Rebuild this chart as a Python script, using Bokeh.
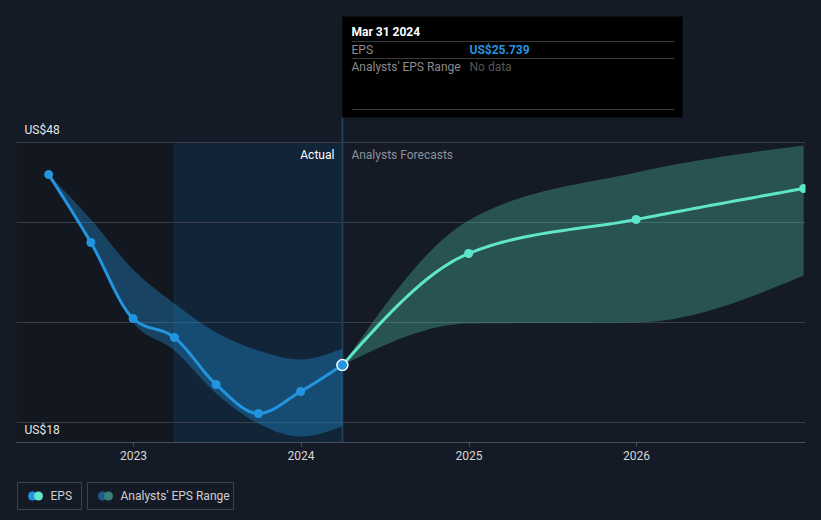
import numpy as np
import pandas as pd
from bokeh.plotting import figure
from bokeh.layouts import column
from bokeh.models import Range1d, FixedTicker, DatetimeTickFormatter
from bokeh.core.properties import value
from bokeh.embed import file_html
from bokeh.resources import INLINE

# ---------------- data ----------------
eps_dates = ["2022-06-30", "2022-09-30", "2022-12-31", "2023-03-31",
             "2023-06-30", "2023-09-30", "2023-12-31", "2024-03-31"]
eps_values = [44.8, 38.0, 30.4, 28.5, 23.8, 20.9, 23.1, 25.739]
eps_range_low = [44.8, 37.8, 30.0, 27.2, 22.9, 19.9, 18.6, 19.6]
eps_range_high = [44.8, 40.3, 35.3, 31.9, 29.0, 27.2, 26.3, 27.4]

fc_dates = ["2024-03-31", "2024-12-31", "2025-12-31", "2026-12-31"]
fc_values = [25.739, 36.9, 40.3, 43.4]
fc_low = [25.739, 29.9, 30.0, 34.7]
fc_high = [25.739, 40.2, 45.0, 47.7]

year_ticks = ["2023-01-01", "2024-01-01", "2025-01-01", "2026-01-01"]
y_grid = [20, 30, 40, 48]
y_labels = ["US$48", "US$18"]
y_label_vals = [48, 18]
current_date = "2024-03-31"
highlight_start = "2023-03-31"
legend_labels = ["EPS", "Analysts' EPS Range"]

BG = "#151b26"
FONT = value("Roboto")


def ms(s):
    return pd.Timestamp(s).value / 1e6


def monotone(xs, ys, n=30):
    xs = np.asarray(xs, float)
    ys = np.asarray(ys, float)
    m = len(xs)
    h = np.diff(xs)
    s = np.diff(ys) / h
    t = np.zeros(m)
    for i in range(1, m - 1):
        p_ = (s[i - 1] * h[i] + s[i] * h[i - 1]) / (h[i - 1] + h[i])
        t[i] = (np.sign(s[i - 1]) + np.sign(s[i])) * min(abs(s[i - 1]), abs(s[i]), 0.5 * abs(p_))
    t[0] = (3 * s[0] - t[1]) / 2
    t[-1] = (3 * s[-1] - t[-2]) / 2
    ox, oy = [], []
    for i in range(m - 1):
        u = np.linspace(0, 1, n, endpoint=(i == m - 2))
        h00 = 2 * u**3 - 3 * u**2 + 1
        h10 = u**3 - 2 * u**2 + u
        h01 = -2 * u**3 + 3 * u**2
        h11 = u**3 - u**2
        ox.extend(xs[i] + u * h[i])
        oy.extend(h00 * ys[i] + h10 * h[i] * t[i] + h01 * ys[i + 1] + h11 * h[i] * t[i + 1])
    return np.array(ox), np.array(oy)


# ---------------- geometry ----------------
W = 821
MAIN_H = 470
FRAME_L, FRAME_R = 16, 16
FRAME_W = W - FRAME_L - FRAME_R
FRAME_H = 442
x0, x1 = ms("2022-04-21"), ms("2027-01-04")
y0 = 18.0
y1 = y0 + FRAME_H / 10.0


def px2x(px):
    return x0 + (px - FRAME_L) / FRAME_W * (x1 - x0)


def px2y(py):
    return y1 - py / 10.0


p = figure(width=W, height=MAIN_H, output_backend="svg", toolbar_location=None,
           x_range=Range1d(x0, x1), y_range=Range1d(y0, y1),
           min_border_left=FRAME_L, min_border_right=FRAME_R,
           min_border_top=0, min_border_bottom=MAIN_H - FRAME_H,
           background_fill_color=BG, border_fill_color=BG)
p.styles = {"background-color": BG}
p.outline_line_color = None
p.yaxis.visible = False
p.xgrid.visible = False
p.ygrid.ticker = FixedTicker(ticks=y_grid)
p.ygrid.grid_line_color = "#393e48"

ax = p.xaxis[0]
ax.ticker = FixedTicker(ticks=[ms(d) for d in year_ticks])
ax.formatter = DatetimeTickFormatter(years="%Y", months="%Y", days="%Y", hours="%Y")
ax.axis_line_color = "#4a4f59"
ax.major_tick_line_color = "#4a4f59"
ax.major_tick_out = 4
ax.major_tick_in = 0
ax.minor_tick_line_color = None
ax.major_label_text_color = "#d6d6d6"
ax.major_label_text_font = "Roboto"
ax.major_label_text_font_size = "12px"
ax.major_label_standoff = 4

cur = ms(current_date)
hs = ms(highlight_start)

# background regions
r = p.quad(left=[x0], right=[hs], bottom=[y0], top=[48], fill_color="#13171f", line_color=None)
r.level = "image"
r = p.quad(left=[hs], right=[cur], bottom=[y0], top=[48], fill_color="#122538", line_color=None)
r.level = "image"
p.segment(x0=[hs], y0=[y0], x1=[hs], y1=[48], line_color="#1b2f45", line_width=1)

# crosshair + tooltip
p.segment(x0=[cur], y0=[px2y(117)], x1=[cur], y1=[y0], line_color="#1f3d5b", line_width=2)
p.quad(left=[cur], right=[px2x(682)], top=[px2y(16)], bottom=[px2y(117)],
       fill_color="#000000", line_color=None)
p.segment(x0=[px2x(351)] * 3, x1=[px2x(674)] * 3,
          y0=[px2y(41), px2y(58), px2y(109)], y1=[px2y(41), px2y(58), px2y(109)],
          line_color="#3a3a3a", line_width=1)
p.text(x=[px2x(351)], y=[px2y(31)], text=["Mar 31 2024"], text_font=FONT,
       text_font_size="12px", text_color="#ffffff", text_baseline="middle",
       text_font_style="bold")
p.text(x=[px2x(351), px2x(351)], y=[px2y(49.5), px2y(66)], text=["EPS", "Analysts' EPS Range"],
       text_font=FONT, text_font_size="12px", text_color="#8c8c8c", text_baseline="middle")
p.text(x=[px2x(469)], y=[px2y(49.5)], text=["US$%.3f" % eps_values[-1]], text_font=FONT,
       text_font_size="12px", text_color="#2394df", text_baseline="middle", text_font_style="bold")
p.text(x=[px2x(469)], y=[px2y(66)], text=["No data"], text_font=FONT,
       text_font_size="12px", text_color="#555555", text_baseline="middle")

# bands
ex = [ms(d) for d in eps_dates]
fx = [ms(d) for d in fc_dates]
bx, blo = monotone(ex, eps_range_low)
_, bhi = monotone(ex, eps_range_high)
p.varea(x=bx, y1=blo, y2=bhi, fill_color="#2394df", fill_alpha=0.35)
fbx, flo = monotone(fx, fc_low)
_, fhi = monotone(fx, fc_high)
p.varea(x=fbx, y1=flo, y2=fhi, fill_color="#5fe6c8", fill_alpha=0.28)

# lines
lx, ly = monotone(ex, eps_values)
p.line(lx, ly, line_color="#2394df", line_width=3)
flx, fly = monotone(fx, fc_values)
p.line(flx, fly, line_color="#5fe6c8", line_width=3)
p.scatter(ex[:-1], eps_values[:-1], size=9, fill_color="#2394df", line_color=None)
p.scatter(fx[1:], fc_values[1:], size=9, fill_color="#5fe6c8", line_color=None)
p.scatter([ex[-1]], [eps_values[-1]], size=11, fill_color="#2394df", line_color="#ffffff", line_width=1.5)

# labels
p.text(x=[px2x(24)] * 2, y=[v for v in y_label_vals], text=y_labels, text_font=FONT,
       text_font_size="12px", text_color="#e6e6e6", text_baseline="bottom", y_offset=-6)
p.text(x=[cur], y=[px2y(154)], text=["Actual"], text_font=FONT, text_font_size="12px",
       text_color="#ffffff", text_align="right", text_baseline="middle", x_offset=-8)
p.text(x=[cur], y=[px2y(154)], text=["Analysts Forecasts"], text_font=FONT,
       text_font_size="12px", text_color="#8b9099", text_align="left", text_baseline="middle",
       x_offset=9)

# ---------------- legend strip (frame aligned with the main frame: x in page px) ----------------
lg = figure(width=W, height=520 - MAIN_H, output_backend="svg", toolbar_location=None,
            x_range=Range1d(FRAME_L, W - FRAME_R), y_range=Range1d(520, MAIN_H),
            min_border_left=FRAME_L, min_border_right=FRAME_R, min_border_top=0,
            min_border_bottom=0, background_fill_color=BG, border_fill_color=BG)
lg.styles = {"background-color": BG}
lg.outline_line_color = None
lg.axis.visible = False
lg.grid.visible = False
lg.quad(left=[17, 87], right=[81, 233], top=[482, 482], bottom=[509, 509],
        fill_color=None, line_color="#3c414b", line_width=1)
lg.scatter([32, 102], [495.5, 495.5], size=9, fill_color=["#2394df", "#1f5a88"], line_color=None)
lg.scatter([38, 108], [495.5, 495.5], size=9, fill_color=["#5fe6c8", "#3c7e78"], line_color=None)
lg.text(x=[50, 120], y=[495.5, 495.5], text=legend_labels, text_font=FONT,
        text_font_size="12px", text_color="#cfcfcf", text_baseline="middle")

layout = column(p, lg, spacing=0)
layout.styles = {"background-color": BG}
open("out.html", "w").write(file_html(layout, INLINE))
